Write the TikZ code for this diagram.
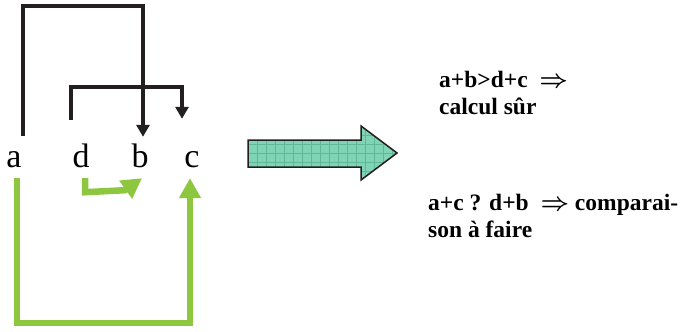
\documentclass[tikz,border=0pt]{standalone}
\usepackage{fontspec}
\setmainfont{Liberation Serif}[BoldFont={Liberation Serif Bold}]
\usetikzlibrary{arrows.meta}
\definecolor{dark}{RGB}{35,31,32}
\definecolor{leaf}{RGB}{141,198,63}
\definecolor{sea}{RGB}{128,212,182}
\definecolor{seagrid}{RGB}{96,184,150}
\tikzset{
	letter/.style={inner sep=0pt, text height=24pt, text depth=0pt, anchor=base, font=\fontsize{34}{34}\selectfont},
	result/.style={inner sep=0pt, anchor=base west, align=left, font=\fontsize{23.5}{27}\selectfont\bfseries\boldmath},
	blackline/.style={dark, line width=4pt, -{Triangle[width=13pt,length=12pt]}},
	greenline/.style={leaf, line width=6.5pt, -{Triangle[width=21pt,length=20pt]}}
}
\begin{document}
\begin{tikzpicture}[x=1pt,y=-1pt]
	\useasboundingbox (0,0) rectangle (681,332);
	
	% Letters
	\node[letter] (a) at (14,167) {a};
	\node[letter] (d) at (81,167) {d};
	\node[letter] (b) at (140,167) {b};
	\node[letter] (c) at (192,167) {c};
	
	% Black links (above)
	\draw[blackline] ([xshift=9pt,yshift=7pt]a.north) -- ++(0,-130) -| ([xshift=3pt,yshift=6pt]b.north);
	\draw[blackline] ([xshift=-10pt,yshift=23pt]d.north) -- ++(0,-33) -| ([xshift=-10pt,yshift=24pt]c.north);
	
	% Green links (below)
	\draw[greenline] ([xshift=3pt,yshift=-11pt]a.south) -- ++(0,145) -| ([xshift=-2pt,yshift=-11pt]c.south);
	\draw[greenline] ([xshift=4pt,yshift=-11pt]d.south) -- ++(0,14) -- ++(40,-2) -- ([xshift=2pt,yshift=-11pt]b.south);
	
	% Big arrow
	\path[fill=sea] (248,140) -- (361,140) -- (361,126) -- (397,153) -- (361,180) -- (361,167) -- (248,167) -- cycle;
	\begin{scope}
		\clip (248,140) -- (361,140) -- (361,126) -- (397,153) -- (361,180) -- (361,167) -- (248,167) -- cycle;
		\foreach \x in {257,266,...,397} {
			\draw[seagrid, line width=0.5pt] (\x,120) -- (\x,185);
		}
		\foreach \y in {126,135,...,180} {
			\draw[seagrid, line width=0.5pt] (245,\y) -- (400,\y);
		}
	\end{scope}
	\draw[dark, line width=1.5pt, line join=miter] (248,140) -- (361,140) -- (361,126) -- (397,153) -- (361,180) -- (361,167) -- (248,167) -- cycle;
	
	% Results
	\node[result] (sure) at (439,114) {a+b>d+c~~$\Rightarrow$\\calcul sûr};
	\node[result] (todo) at (428,237) {a+c ? d+b~~$\Rightarrow$ comparai-\\son à faire};
	
\end{tikzpicture}
\end{document}
